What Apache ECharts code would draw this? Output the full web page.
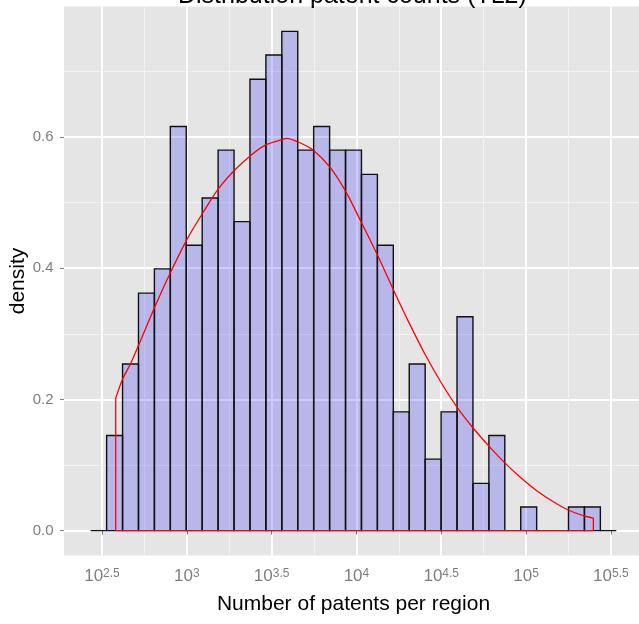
<!DOCTYPE html>
<html lang="en">
<head>
<meta charset="utf-8">
<title>Distribution patent counts (TL2)</title>
<script src="https://cdn.jsdelivr.net/npm/echarts@6/dist/echarts.min.js"></script>
<style>
  html, body { margin: 0; padding: 0; background: #fff; }
  #chart { width: 639px; height: 624px; }
</style>
</head>
<body>
<div id="chart"></div>
<script>
  // x values are log10(number of patents per region)
  var binEdges = [2.4334, 2.5273, 2.6212, 2.7151, 2.8090, 2.9029, 2.9968, 3.0907, 3.1846,
    3.2785, 3.3724, 3.4663, 3.5602, 3.6541, 3.7480, 3.8419, 3.9358, 4.0297, 4.1236,
    4.2175, 4.3114, 4.4053, 4.4992, 4.5931, 4.6870, 4.7809, 4.8748, 4.9687, 5.0626,
    5.1565, 5.2504, 5.3443, 5.4382, 5.5321];
  var binDensity = [0, 0.145, 0.254, 0.362, 0.399, 0.616, 0.435, 0.507, 0.580, 0.471,
    0.688, 0.725, 0.761, 0.580, 0.616, 0.580, 0.580, 0.543, 0.435, 0.181, 0.254,
    0.109, 0.181, 0.326, 0.072, 0.145, 0, 0.036, 0, 0, 0.036, 0.036, 0];

  // kernel density curve (red)
  var densX = [2.581, 2.620, 2.671, 2.718, 2.813, 2.903, 3.001, 3.096, 3.186, 3.280,
    3.377, 3.465, 3.561, 3.589, 3.660, 3.746, 3.844, 3.939, 4.029, 4.126, 4.222,
    4.310, 4.406, 4.501, 4.591, 4.689, 4.784, 4.872, 4.971, 5.067, 5.161, 5.252,
    5.348, 5.397];
  var densY = [0.202, 0.230, 0.256, 0.284, 0.342, 0.393, 0.444, 0.485, 0.521, 0.549,
    0.572, 0.588, 0.596, 0.598, 0.592, 0.580, 0.554, 0.516, 0.470, 0.419, 0.365,
    0.317, 0.268, 0.225, 0.189, 0.156, 0.128, 0.104, 0.080, 0.060, 0.044, 0.031,
    0.022, 0.019];

  var xTicks = [2.5, 3, 3.5, 4, 4.5, 5, 5.5];
  var xTickLabels = ['2.5', '3', '3.5', '4', '4.5', '5', '5.5'];
  var xMinorGrid = [2.75, 3.25, 3.75, 4.25, 4.75, 5.25];
  var yTicks = [0, 0.2, 0.4, 0.6];
  var yTickLabels = ['0.0', '0.2', '0.4', '0.6'];
  var yMinorGrid = [0.1, 0.3, 0.5, 0.7];

  var font = 'Liberation Sans, Arial, sans-serif';

  var bins = binDensity.map(function (d, i) {
    return [binEdges[i], binEdges[i + 1], d];
  });

  var curve = densX.map(function (x, i) { return [x, densY[i]]; });
  var first = densX[0], last = densX[densX.length - 1];
  // vertical ends and baseline of the density outline
  var outline = [
    [first, densY[0]], [first, 0], [last, 0], [last, densY[densY.length - 1]]
  ];

  var chart = echarts.init(document.getElementById('chart'));

  var option = {
    animation: false,
    title: {
      text: 'Distribution patent counts (TL2)',
      left: 178,
      top: -16,
      padding: 0,
      textStyle: { fontFamily: font, fontSize: 25, fontWeight: 'normal', color: '#000' }
    },
    grid: {
      left: 64, right: 0, top: 6.5, bottom: 68.5,
      outerBoundsMode: 'none',
      containLabel: false,
      show: true, backgroundColor: '#E5E5E5', borderWidth: 0
    },
    xAxis: [{
      type: 'value',
      min: 2.276,
      max: 5.666,
      name: 'Number of patents per region',
      nameLocation: 'middle',
      nameGap: 38,
      nameMoveOverlap: false,
      nameTextStyle: { fontFamily: font, fontSize: 21, color: '#000', padding: [0, 0, 0, 4] },
      axisLine: { show: false },
      axisTick: { customValues: xTicks, length: 4, lineStyle: { color: '#7F7F7F' } },
      axisLabel: {
        customValues: xTicks,
        margin: 12,
        formatter: function (v) {
          var i = xTicks.indexOf(v);
          return '{b|10}{s|' + xTickLabels[i] + '}';
        },
        rich: {
          b: { fontFamily: font, fontSize: 17, lineHeight: 17, color: '#7F7F7F',
               padding: [5, 0, 0, 0], verticalAlign: 'bottom' },
          s: { fontFamily: font, fontSize: 12, lineHeight: 12, color: '#7F7F7F',
               verticalAlign: 'top' }
        }
      },
      splitLine: { show: true, lineStyle: { color: '#FFFFFF', width: 1.8 } }
    }, {
      type: 'value',
      min: 2.276,
      max: 5.666,
      position: 'bottom',
      axisLine: { show: false },
      axisTick: { show: false, customValues: xMinorGrid },
      axisLabel: { show: false },
      splitLine: { show: true, lineStyle: { color: '#F2F2F2', width: 1 } }
    }],
    yAxis: [{
      type: 'value',
      min: -0.038,
      max: 0.799,
      name: 'density',
      nameLocation: 'middle',
      nameGap: 35,
      nameMoveOverlap: false,
      nameTextStyle: { fontFamily: font, fontSize: 21, color: '#000' },
      axisLine: { show: false },
      axisTick: { customValues: yTicks, length: 4, lineStyle: { color: '#7F7F7F' } },
      axisLabel: {
        customValues: yTicks,
        margin: 10.5,
        fontFamily: font,
        fontSize: 15,
        color: '#7F7F7F',
        formatter: function (v) { return yTickLabels[yTicks.indexOf(v)]; }
      },
      splitLine: { show: true, lineStyle: { color: '#FFFFFF', width: 1.8 } }
    }, {
      type: 'value',
      min: -0.038,
      max: 0.799,
      position: 'left',
      axisLine: { show: false },
      axisTick: { show: false, customValues: yMinorGrid },
      axisLabel: { show: false },
      splitLine: { show: true, lineStyle: { color: '#F2F2F2', width: 1 } }
    }],
    series: [{
      type: 'custom',
      xAxisIndex: 0,
      yAxisIndex: 0,
      data: bins,
      encode: { x: [0, 1], y: 2 },
      renderItem: function (params, api) {
        var p0 = api.coord([api.value(0), 0]);
        var p1 = api.coord([api.value(1), api.value(2)]);
        return {
          type: 'rect',
          shape: { x: p0[0], y: p1[1], width: p1[0] - p0[0], height: p0[1] - p1[1] },
          style: { fill: 'rgba(0,0,255,0.2)', stroke: '#111', lineWidth: 1.4 }
        };
      },
      z: 2
    }, {
      type: 'line',
      data: curve,
      smooth: 0.3,
      showSymbol: false,
      symbol: 'none',
      lineStyle: { color: '#FF0000', width: 1.3 },
      z: 3
    }, {
      type: 'line',
      data: outline,
      showSymbol: false,
      symbol: 'none',
      lineStyle: { color: '#FF0000', width: 1.3 },
      z: 3
    }]
  };

  chart.setOption(option);
</script>
</body>
</html>
